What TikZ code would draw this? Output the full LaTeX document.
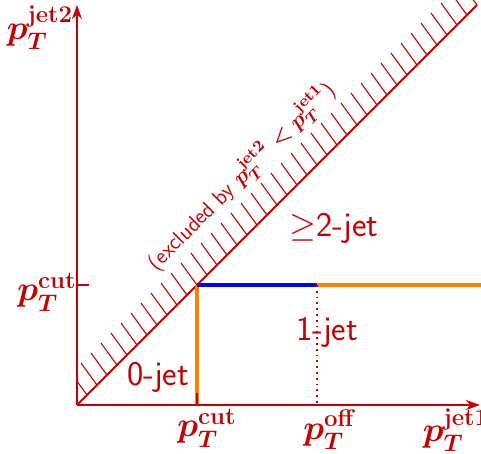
\documentclass[tikz,border=0pt]{standalone}
\usepackage{amsmath}
\usepackage{amssymb}
\usepackage{tikz}
\usetikzlibrary{arrows.meta,positioning,calc}
\definecolor{axred}{RGB}{196,0,0}
\definecolor{cutorange}{RGB}{255,128,0}
\definecolor{cutblue}{RGB}{0,0,255}

\begin{document}
\begin{tikzpicture}[x=0.5pt, y=-0.5pt,
  axis/.style={-{Stealth[length=7pt,width=5pt]}, axred, line width=1.1pt},
  tick/.style={axred, line width=0.8pt},
  diag/.style={axred, line width=0.9pt},
  hatch/.style={axred, line width=0.55pt},
  cutline/.style={cutorange, line width=2pt},
  offline/.style={axred, line width=0.9pt, dotted},
  lab/.style={axred, font=\LARGE\boldmath},
  reg/.style={axred, font=\LARGE\sffamily},
  note/.style={axred, font=\fontsize{11}{13}\selectfont\sffamily\boldmath}]
  \useasboundingbox (0,0) rectangle (481,454);
  % corner points
  \coordinate (o) at (77,405);
  \coordinate (xend) at (480,405);
  \coordinate (ytop) at (77,5);
  \coordinate (dend) at (477,5);
  \coordinate (c) at (197,285);
  \coordinate (cx) at (197,405);
  \coordinate (cy) at (77,285);
  \coordinate (f) at (317,285);
  \coordinate (fx) at (317,405);
  \coordinate (r) at (481,285);
  % hatching above the diagonal
  \begin{scope}
    \clip (77,0) rectangle (481,405);
    \foreach \i in {0,...,39} {
      \draw[hatch] ($(o)+(10+10*\i,-10-10*\i)$) -- ++(-16,-22);
    }
  \end{scope}
  \draw[diag] (o) -- (dend);
  % cut lines
  \draw[cutline] (cx) -- (c);
  \draw[cutline, cutblue] (c) -- (f);
  \draw[cutline] (f) -- (r);
  \draw[offline] (f) -- (fx);
  % axes
  \draw[axis] (o) -- (xend);
  \draw[axis] (o) -- (ytop);
  \draw[tick] (cy) -- ++(12,0);
  \draw[tick] (cx) -- ++(0,-12);
  % labels
  \node[lab] (ylab) at (40,28) {$p_T^{\mathrm{jet2}}$};
  \node[lab] (ycut) at (47,292) {$p_T^{\mathrm{cut}}$};
  \node[lab] (xcut) at (207,428) {$p_T^{\mathrm{cut}}$};
  \node[lab] (xoff) at (330,430) {$p_T^{\mathrm{off}}$};
  \node[lab] (xlab) at (456,430) {$p_T^{\mathrm{jet1}}$};
  \node[reg] (zero) at (158,377) {0-jet};
  \node[reg] (one) at (327,332) {1-jet};
  \node[reg] (two) at (334,228) {$\geq$2-jet};
  \node[note, rotate=45] (excl) at (241,176) {(excluded by $p_T^{\mathrm{jet2}} < p_T^{\mathrm{jet1}}$)};
\end{tikzpicture}
\end{document}
